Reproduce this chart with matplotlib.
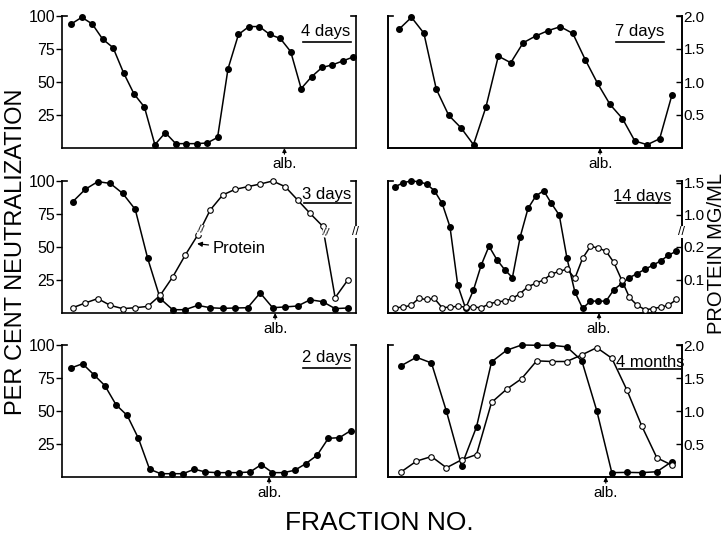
import numpy as np
import matplotlib
matplotlib.use("Agg")
import matplotlib.pyplot as plt

plt.rcParams["font.family"] = ["Liberation Sans", "DejaVu Sans"]

# per cent neutralization (filled) and protein (open) per fraction
days4_neut = [94, 99, 94, 82.5, 76, 57, 41, 31, 2.5, 11.6, 3.3, 3.3, 3.3, 3.8, 8,
              60, 86, 92, 92, 86, 83, 73, 45, 54, 61, 63, 66, 69]
days7_neut = [90, 99, 87, 44.6, 24.8, 15.2, 2.5, 31, 69.6, 64.6, 79.7, 84.8, 88.9,
              91.9, 86.8, 67, 48.9, 33, 22.3, 5.3, 2.5, 7, 40.5]
days3_neut = [84.3, 93.7, 99.5, 98.2, 90.6, 78.5, 41.3, 10.9, 2.5, 2.5, 5.8, 4, 3.5,
              3.8, 4, 15.2, 4, 4.6, 5.3, 10, 8.6, 3.3, 3.8]
days3_prot = [4, 7.6, 10.9, 5.8, 3.3, 4, 5, 13.4, 27.3, 43.8, 59, 78, 89.4, 93.7,
              95.7, 97.7, 100, 95.7, 85.6, 75.4, 65.8, 11.6, 24.8]
days14_neut = [95.7, 98.7, 100, 99.5, 97.7, 92.7, 83, 65.3, 21, 3.5, 17.2, 36.2, 50.6,
               40.5, 32.9, 26.8, 57.7, 79.2, 88.6, 92.7, 83, 74.2, 41.3, 16, 3.5, 9,
               9, 9, 17.7, 22.3, 26.8, 29.9, 33.2, 36.2, 39.5, 43.8, 46.8]
days14_prot = [0.016, 0.018, 0.023, 0.044, 0.041, 0.044, 0.016, 0.018, 0.02, 0.018,
               0.018, 0.016, 0.027, 0.034, 0.036, 0.044, 0.059, 0.08, 0.09, 0.1, 0.118,
               0.126, 0.133, 0.105, 0.166, 0.214, 0.197, 0.187, 0.153, 0.1, 0.047,
               0.023, 0.01, 0.013, 0.018, 0.023, 0.041]
days2_neut = [82.7, 85.8, 77.6, 69.2, 54.7, 46.6, 29.3, 5.9, 2.5, 2.5, 2.5, 5.9, 3.8,
              3.3, 3.3, 3.3, 3.8, 9.4, 3.3, 3.3, 5.1, 10.2, 16.5, 29.3, 29.8, 35.1]
months4_neut = [84.4, 90.7, 86.4, 49.7, 8.4, 38, 87.2, 96, 100, 99.8, 99.8, 98.6, 88.2,
                50.2, 3.3, 3.5, 3.3, 4, 11.7]
months4_prot = [0.08, 0.24, 0.31, 0.14, 0.26, 0.34, 1.13, 1.33, 1.49, 1.76, 1.75, 1.75,
                1.85, 1.96, 1.80, 1.32, 0.77, 0.29, 0.18]

pct_ticks = [25, 50, 75, 100]
pct_labels = ["25", "50", "75", "100"]
prot_ticks = [0.5, 1.0, 1.5, 2.0]
prot_labels = ["0.5", "1.0", "1.5", "2.0"]
brk_ticks = [0.1, 0.2, 1.0, 1.5]
brk_labels = ["0.1", "0.2", "1.0", "1.5"]


def brk_fwd(v):
    v = np.asarray(v, dtype=float)
    return np.where(v <= 0.2, v * 330.0,
                    np.where(v <= 1.0, 66.0 + (v - 0.2) * 40.0, 98.0 + (v - 1.0) * 64.0))


def brk_inv(d):
    d = np.asarray(d, dtype=float)
    return np.where(d <= 66.0, d / 330.0,
                    np.where(d <= 98.0, 0.2 + (d - 66.0) / 40.0, 1.0 + (d - 98.0) / 64.0))


fig = plt.figure(figsize=(7.27, 5.37), dpi=100)

col_x = [62 / 727, 388 / 727]
row_y = [1 - 148 / 537, 1 - 313 / 537, 1 - 477 / 537]
pw = 294 / 727
ph = 132 / 537

LW = 1.1
MS = 4.0


def make_panel(col, row, xlim, left_labels):
    ax = fig.add_axes([col_x[col], row_y[row], pw, ph])
    ax.set_xlim(*xlim)
    ax.set_ylim(0, 100)
    ax.spines["top"].set_visible(False)
    for s in ["left", "right", "bottom"]:
        ax.spines[s].set_linewidth(1.2)
    ax.set_xticks([])
    if left_labels:
        ax.set_yticks(pct_ticks)
        ax.set_yticklabels(pct_labels)
        ax.tick_params(axis="y", direction="out", length=4, width=1, pad=1, labelsize=11.5)
    else:
        ax.set_yticks([])
    # little top brackets
    ax.plot([0, 0.018], [1, 1], color="black", lw=1.2, transform=ax.transAxes, clip_on=False)
    ax.plot([0.982, 1], [1, 1], color="black", lw=1.2, transform=ax.transAxes, clip_on=False)
    return ax


def add_right_axis(ax, ylim, ticks, labels, scale=None):
    tw = ax.twinx()
    if scale is not None:
        tw.set_yscale("function", functions=scale)
    tw.set_ylim(*ylim)
    tw.spines["top"].set_visible(False)
    for s in ["left", "right", "bottom"]:
        tw.spines[s].set_linewidth(1.2)
    tw.set_yticks(ticks)
    tw.set_yticklabels(labels)
    tw.minorticks_off()
    tw.tick_params(axis="y", direction="in", length=4, width=1, pad=1, labelsize=11)
    return tw


def filled(ax, vals):
    x = np.arange(1, len(vals) + 1)
    ax.plot(x, vals, "-o", color="black", lw=LW, ms=MS, mfc="black", clip_on=False, zorder=3)


def opened(ax, vals):
    x = np.arange(1, len(vals) + 1)
    ax.plot(x, vals, "-o", color="black", lw=LW, ms=MS, mfc="white", mew=0.8,
            clip_on=False, zorder=4)


def tag(ax, text, tx, ty, ux0, ux1, uy):
    ax.text(tx, ty, text, transform=ax.transAxes, ha="center", va="center", fontsize=12)
    ax.plot([ux0, ux1], [uy, uy], color="black", lw=1.2, transform=ax.transAxes, clip_on=False)


def alb(ax, x):
    ax.annotate("alb.", xy=(x, 0), xycoords="data", xytext=(0, -11.5), textcoords="offset points",
                ha="center", va="center", fontsize=11, annotation_clip=False,
                arrowprops=dict(arrowstyle="-|>", color="black", lw=0.8, mutation_scale=6,
                                shrinkA=0, shrinkB=0))


def spine_break(ax, frac):
    ax.text(1.0, frac, "//", transform=ax.transAxes, ha="center", va="center", fontsize=9,
            bbox=dict(facecolor="white", edgecolor="none", pad=0.3), zorder=6, clip_on=False)


# 4 days
ax = make_panel(0, 0, (0.11, 28.25), True)
filled(ax, days4_neut)
tag(ax, "4 days", 0.898, 0.886, 0.820, 0.983, 0.803)
alb(ax, 21.4)

# 7 days
ax = make_panel(1, 0, (0.11, 23.8), False)
filled(ax, days7_neut)
add_right_axis(ax, (0, 2.0), prot_ticks, prot_labels)
tag(ax, "7 days", 0.857, 0.879, 0.776, 0.939, 0.803)
alb(ax, 17.2)

# 3 days
ax = make_panel(0, 1, (0.14, 23.67), True)
opened(ax, days3_prot)
filled(ax, days3_neut)
tag(ax, "3 days", 0.901, 0.894, 0.823, 0.983, 0.833)
alb(ax, 17.2)
spine_break(ax, 0.614)
for bx, by in [(11.25, 63), (21.25, 61)]:
    ax.text(bx, by, "//", ha="center", va="center", fontsize=8, rotation=-10,
            bbox=dict(facecolor="white", edgecolor="none", pad=0.1), zorder=5)
ax.annotate("Protein", xy=(10.95, 52.5), xytext=(12.2, 49), ha="left", va="center",
            fontsize=12, arrowprops=dict(arrowstyle="-|>", color="black", lw=0.9,
                                         mutation_scale=7, shrinkA=1, shrinkB=0))

# 14 days
ax = make_panel(1, 1, (0.06, 37.73), False)
filled(ax, days14_neut)
tw = add_right_axis(ax, (0, 1.53), brk_ticks, brk_labels, scale=(brk_fwd, brk_inv))
opened(tw, days14_prot)
tag(ax, "14 days", 0.864, 0.886, 0.779, 0.959, 0.833)
alb(ax, 27.1)
spine_break(tw, 0.614)

# 2 days
ax = make_panel(0, 2, (0.16, 26.48), True)
filled(ax, days2_neut)
tag(ax, "2 days", 0.901, 0.902, 0.820, 0.980, 0.826)
alb(ax, 18.7)

# 4 months
ax = make_panel(1, 2, (0.11, 19.67), False)
filled(ax, months4_neut)
tw = add_right_axis(ax, (0, 2.0), prot_ticks, prot_labels)
opened(tw, months4_prot)
tag(tw, "4 months", 0.891, 0.871, 0.786, 1.0, 0.818)
alb(ax, 14.6)

fig.text(16 / 727, 1 - 252 / 537, "PER CENT NEUTRALIZATION", rotation=90,
         ha="center", va="center", fontsize=17)
fig.text(716 / 727, 1 - 253 / 537, "PROTEIN MG/ML", rotation=90,
         ha="center", va="center", fontsize=14.5)
fig.text(379 / 727, 1 - 523 / 537, "FRACTION NO.", ha="center", va="center", fontsize=19)

fig.savefig("out.png", dpi=100)
